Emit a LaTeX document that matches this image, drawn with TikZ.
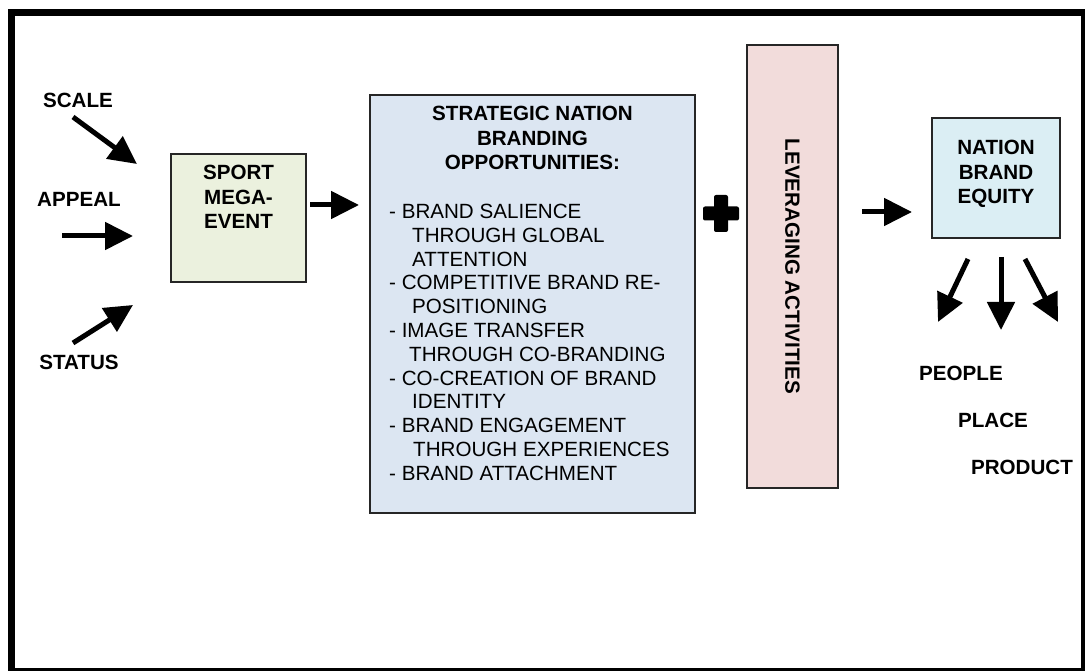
\documentclass[tikz,border=0pt]{standalone}
\usepackage{fontspec}
\setmainfont{Liberation Sans}
\usetikzlibrary{arrows.meta,positioning}

\definecolor{sportgreen}{HTML}{EBF1DE}
\definecolor{oppblue}{HTML}{DCE6F2}
\definecolor{levpink}{HTML}{F2DCDB}
\definecolor{equityblue}{HTML}{DBEEF4}

\tikzset{
  box/.style={draw=black!85, line width=1.8pt, inner sep=0pt},
  lbl/.style={inner sep=0pt, font=\fontsize{20.6}{24.5}\selectfont\bfseries, align=center},
  items/.style={inner sep=0pt, font=\fontsize{20.6}{23.8}\selectfont, align=left},
  bigarrow/.style={line width=5pt, -{Triangle[length=28pt,width=27pt]}}
}

\begin{document}
\begin{tikzpicture}[x=1pt, y=-1pt]
    \useasboundingbox (0,0) rectangle (1085,671);
    \draw[line width=7pt] (11.5,12.5) rectangle (1084.5,671.5);

    \node (scale)  [lbl] at (78,100) {SCALE};
    \node (appeal) [lbl] at (79,199) {APPEAL};
    \node (status) [lbl] at (79,362) {STATUS};

    \node (sport) [box, fill=sportgreen, minimum width=135pt, minimum height=128pt] at (238.5,218) {};
    \node (sporttxt) [lbl, below=12pt of sport.north] {SPORT\\MEGA-\\EVENT};

    \node (opp) [box, fill=oppblue, minimum width=325pt, minimum height=418pt] at (532.5,304) {};
    \node (opptitle) [lbl, below=12pt of opp.north] {STRATEGIC NATION\\BRANDING\\OPPORTUNITIES:};
    \node (opplist) [items, anchor=north west] at (389,204) {- BRAND SALIENCE\\
      \hspace*{23pt}THROUGH GLOBAL\\
      \hspace*{23pt}ATTENTION\\
      - COMPETITIVE BRAND RE-\\
      \hspace*{23pt}POSITIONING\\
      - IMAGE TRANSFER\\
      \hspace*{20pt}THROUGH CO-BRANDING\\
      - CO-CREATION OF BRAND\\
      \hspace*{23pt}IDENTITY\\
      - BRAND ENGAGEMENT\\
      \hspace*{24pt}THROUGH EXPERIENCES\\
      - BRAND ATTACHMENT};

    \node (lev) [box, fill=levpink, minimum width=91pt, minimum height=443pt] at (792.5,266.5) {};
    \node (levtxt) [lbl, rotate=-90] at (lev) {LEVERAGING ACTIVITIES};

    \node (equity) [box, fill=equityblue, minimum width=128pt, minimum height=120pt] at (996,178) {};
    \node (equitytxt) [lbl, below=23pt of equity.north] {NATION\\BRAND\\EQUITY};

    \node (people)  [lbl] at (961,373) {PEOPLE};
    \node (place)   [lbl] at (993,420) {PLACE};
    \node (product) [lbl] at (1022,467) {PRODUCT};

    \fill[rounded corners=2pt] (703,206.5) rectangle (739,220.5);
    \fill[rounded corners=2pt] (714,195) rectangle (728,232);

    \coordinate (scaleA)  at (73,117);
    \coordinate (scaleB)  at (137,164);
    \coordinate (appealA) at (62,236);
    \coordinate (appealB) at (133,236);
    \coordinate (statusA) at (73,343);
    \coordinate (statusB) at (133,305);
    \coordinate (sportA)  at (310,205);
    \coordinate (sportB)  at (359,205);
    \coordinate (levA)    at (862,212);
    \coordinate (levB)    at (912,212);
    \coordinate (peopleA) at (968,259);
    \coordinate (peopleB) at (938,322);
    \coordinate (placeA)  at (1001,257);
    \coordinate (placeB)  at (1001,330);
    \coordinate (prodA)   at (1025,259);
    \coordinate (prodB)   at (1058,322);

    \draw[bigarrow] (scaleA) -- (scaleB);
    \draw[bigarrow] (appealA) -- (appealB);
    \draw[bigarrow] (statusA) -- (statusB);
    \draw[bigarrow] (sportA) -- (sportB);
    \draw[bigarrow] (levA) -- (levB);
    \draw[bigarrow] (peopleA) -- (peopleB);
    \draw[bigarrow] (placeA) -- (placeB);
    \draw[bigarrow] (prodA) -- (prodB);
\end{tikzpicture}
\end{document}
